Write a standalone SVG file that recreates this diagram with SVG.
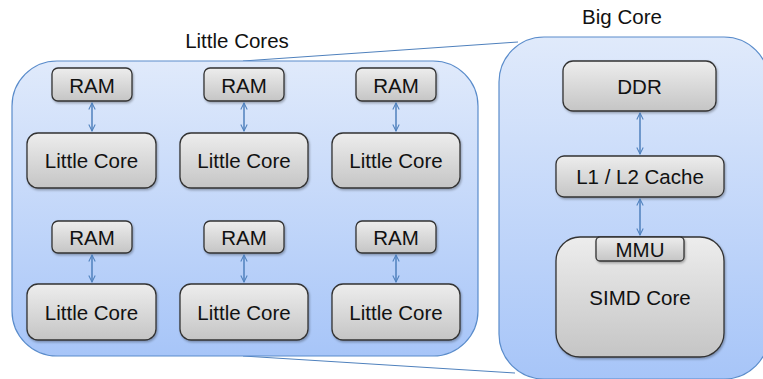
<svg xmlns="http://www.w3.org/2000/svg" width="763" height="379" viewBox="0 0 763 379">
<defs>
<linearGradient id="gBlue" x1="0" y1="0" x2="0" y2="1">
<stop offset="0" stop-color="#e0eafb"/>
<stop offset="1" stop-color="#a7c5f8"/>
</linearGradient>
<linearGradient id="gGray" x1="0" y1="0" x2="0" y2="1">
<stop offset="0" stop-color="#ededed"/>
<stop offset="1" stop-color="#c5c5c5"/>
</linearGradient>
<marker id="ah" viewBox="0 0 10 10" refX="9" refY="5" markerWidth="8" markerHeight="8" orient="auto-start-reverse" markerUnits="userSpaceOnUse">
<path d="M1,1 L9,5 L1,9" fill="none" stroke="#4f81bd" stroke-width="1.3"/>
</marker>
<filter id="sh" x="-10%" y="-10%" width="120%" height="130%">
<feDropShadow dx="1" dy="1.5" stdDeviation="1.2" flood-color="#000" flood-opacity="0.3"/>
</filter>
</defs>
<style>
.cont{fill:url(#gBlue);stroke:#5a8ccb;stroke-width:1.2}
.node{fill:url(#gGray);stroke:#333;stroke-width:1.3;filter:url(#sh)}
.t{font-family:"Liberation Sans",Arial,sans-serif;font-size:20.5px;fill:#111;text-anchor:middle}
.conn{stroke:#4f81bd;stroke-width:1.5;fill:none;marker-start:url(#ah);marker-end:url(#ah)}
.zoom{stroke:#4f81bd;stroke-width:1;fill:none}
</style>
<g id="zoomlines">
<line class="zoom" x1="243" y1="61" x2="518" y2="42"/>
<line class="zoom" x1="243" y1="356" x2="515" y2="373"/>
</g>
<g id="little-cores">
<rect class="cont" x="12" y="61" width="466" height="295" rx="45" ry="45"/>
<text class="t" x="237" y="48" font-size="21">Little Cores</text>
</g>
<g id="big-core">
<rect class="cont" x="499" y="37" width="270" height="342" rx="45" ry="45"/>
<text class="t" x="622" y="24">Big Core</text>
</g>
<g id="ram1"><rect class="node" x="52" y="68" width="80" height="33" rx="6"/><text class="t" x="92" y="93">RAM</text></g>
<g id="ram2"><rect class="node" x="204" y="68" width="80" height="33" rx="6"/><text class="t" x="244" y="93">RAM</text></g>
<g id="ram3"><rect class="node" x="356" y="68" width="80" height="33" rx="6"/><text class="t" x="396" y="93">RAM</text></g>
<g id="core1"><rect class="node" x="27" y="133" width="129" height="55" rx="11"/><text class="t" x="91.5" y="168">Little Core</text></g>
<g id="core2"><rect class="node" x="180" y="133" width="128" height="55" rx="11"/><text class="t" x="244" y="168">Little Core</text></g>
<g id="core3"><rect class="node" x="332" y="133" width="128" height="55" rx="11"/><text class="t" x="396" y="168">Little Core</text></g>
<g id="ram4"><rect class="node" x="52" y="221" width="80" height="32" rx="6"/><text class="t" x="92" y="245">RAM</text></g>
<g id="ram5"><rect class="node" x="204" y="221" width="80" height="32" rx="6"/><text class="t" x="244" y="245">RAM</text></g>
<g id="ram6"><rect class="node" x="356" y="221" width="80" height="32" rx="6"/><text class="t" x="396" y="245">RAM</text></g>
<g id="core4"><rect class="node" x="27" y="284" width="129" height="56" rx="11"/><text class="t" x="91.5" y="320">Little Core</text></g>
<g id="core5"><rect class="node" x="180" y="284" width="128" height="56" rx="11"/><text class="t" x="244" y="320">Little Core</text></g>
<g id="core6"><rect class="node" x="332" y="284" width="128" height="56" rx="11"/><text class="t" x="396" y="320">Little Core</text></g>
<g id="ddr"><rect class="node" x="563" y="61" width="153" height="50" rx="10"/><text class="t" x="639.5" y="94">DDR</text></g>
<g id="cache"><rect class="node" x="556" y="156" width="168" height="41" rx="8"/><text class="t" x="640" y="184">L1 / L2 Cache</text></g>
<g id="simd"><rect class="node" x="556" y="237" width="168" height="120" rx="24"/><text class="t" x="640" y="305">SIMD Core</text></g>
<g id="mmu"><rect class="node" x="596" y="237" width="88" height="24" rx="4"/><text class="t" x="640" y="257" font-size="22">MMU</text></g>
<g id="connectors">
<line class="conn" x1="92" y1="103" x2="92" y2="131"/>
<line class="conn" x1="244" y1="103" x2="244" y2="131"/>
<line class="conn" x1="396" y1="103" x2="396" y2="131"/>
<line class="conn" x1="92" y1="255" x2="92" y2="282"/>
<line class="conn" x1="244" y1="255" x2="244" y2="282"/>
<line class="conn" x1="396" y1="255" x2="396" y2="282"/>
<line class="conn" x1="640" y1="113" x2="640" y2="154"/>
<line class="conn" x1="640" y1="199" x2="640" y2="235"/>
</g>
</svg>
